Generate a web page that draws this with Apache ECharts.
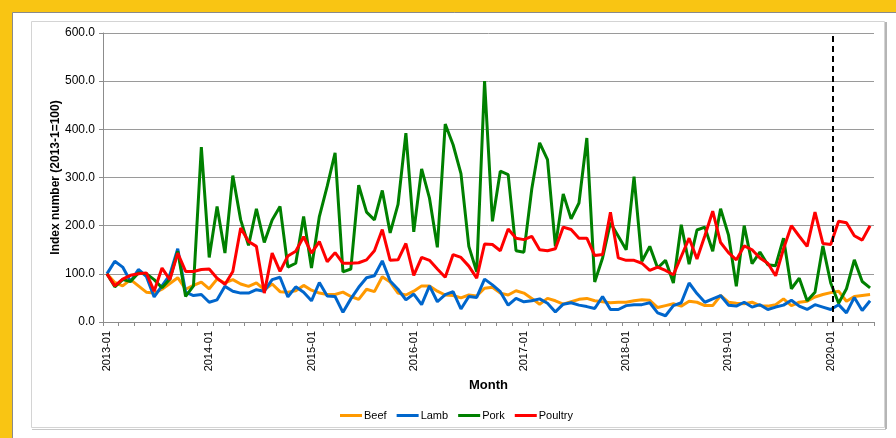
<!DOCTYPE html>
<html>
<head>
<meta charset="utf-8">
<script src="https://cdn.jsdelivr.net/npm/echarts@6/dist/echarts.min.js"></script>
<style>
html,body{margin:0;padding:0;background:#f9c513;}
#chart{width:896px;height:438px;}
</style>
</head>
<body>
<div id="chart"></div>
<script>
var FONT = "Arial, 'Liberation Sans', sans-serif";

// 4-weekly periods, labelled by the month they fall in
var periods = [
	"2013-01","2013-02","2013-03","2013-03","2013-04","2013-05","2013-06","2013-07","2013-08","2013-09","2013-10","2013-11","2013-12",
	"2014-01","2014-02","2014-03","2014-03","2014-04","2014-05","2014-06","2014-07","2014-08","2014-09","2014-10","2014-11","2014-12",
	"2015-01","2015-01","2015-02","2015-03","2015-04","2015-05","2015-06","2015-07","2015-08","2015-09","2015-10","2015-11","2015-12",
	"2016-01","2016-01","2016-02","2016-03","2016-04","2016-05","2016-06","2016-07","2016-08","2016-09","2016-10","2016-11","2016-12","2016-12",
	"2017-01","2017-02","2017-03","2017-04","2017-05","2017-06","2017-07","2017-08","2017-09","2017-10","2017-11","2017-12","2017-12",
	"2018-01","2018-02","2018-03","2018-04","2018-05","2018-06","2018-07","2018-08","2018-09","2018-10","2018-11","2018-12","2018-12",
	"2019-01","2019-02","2019-03","2019-04","2019-05","2019-06","2019-07","2019-08","2019-09","2019-10","2019-11","2019-11","2019-12",
	"2020-01","2020-02","2020-03","2020-04","2020-05","2020-06"
];

var beef = [100,82,75,88,75,62,60,68,80,92,68,76,83,69,89,81,88,79,74,81,67,79,63,62,65,76,66,60,57,57,62,53,47,68,63,94,83,60,56,64,75,75,64,56,55,50,56,54,70,72,60,56,65,60,49,37,49,44,37,42,47,49,44,42,40,41,41,44,46,45,30,34,38,33,43,41,34,34,55,41,39,38,41,34,33,36,48,34,41,43,52,57,61,64,43,53,55,57];
var lamb = [100,126,114,84,109,95,52,75,98,152,62,55,57,41,46,74,64,60,60,67,64,88,93,52,73,62,44,82,54,53,20,48,72,92,96,127,85,68,46,58,36,75,42,57,63,27,53,51,89,77,63,35,49,42,44,48,39,21,37,40,35,32,28,53,26,26,34,36,36,40,19,13,34,40,81,59,41,48,55,35,33,41,31,36,26,31,35,45,33,26,36,31,26,36,19,51,24,44];
var pork = [100,73,88,84,102,100,88,71,89,147,53,75,363,134,240,143,304,212,159,235,165,212,240,114,122,219,112,219,282,351,104,110,284,228,212,273,185,244,392,187,318,257,155,411,368,308,157,104,500,209,313,306,148,145,276,372,337,157,266,214,247,382,83,133,206,178,150,302,126,157,112,128,81,202,120,191,197,147,235,181,74,200,121,145,119,117,174,69,91,44,62,158,81,39,69,129,84,71];
var poultry = [100,75,89,97,100,102,64,112,88,143,105,105,109,110,91,78,105,195,167,157,60,143,105,137,147,177,143,167,125,144,122,122,123,129,148,192,128,129,163,97,134,128,110,93,140,134,116,91,162,161,148,193,174,171,178,150,148,152,197,192,174,174,138,140,228,133,128,128,122,107,114,107,98,136,174,131,179,230,165,144,129,158,150,133,122,96,152,200,178,157,228,163,161,209,206,179,170,200];

var seriesNames = ["Beef", "Lamb", "Pork", "Poultry"];
var seriesColors = ["#ff9900", "#0066cc", "#008000", "#ff0000"];
var seriesData = [beef, lamb, pork, poultry];

// dashed marker, in period units along the plot
var markerAt = 92.75;

var chart = echarts.init(document.getElementById("chart"));

var series = seriesNames.map(function(name, i) {
	return {
		name: name,
		type: "line",
		data: seriesData[i],
		symbol: "none",
		lineStyle: { width: 3, color: seriesColors[i] },
		itemStyle: { color: seriesColors[i] },
		animation: false
	};
});
series.push({
	type: "line",
	xAxisIndex: 1,
	data: [],
	animation: false,
	markLine: {
		silent: true,
		symbol: "none",
		label: { show: false },
		lineStyle: { color: "#000", width: 2, type: [6, 4] },
		data: [{ xAxis: markerAt }]
	}
});

var option = {
	animation: false,
	graphic: [
		{
			type: "rect",
			shape: { x: 12.5, y: 12.5, width: 900, height: 440 },
			style: { fill: "#fff", stroke: "#8a8a8a", lineWidth: 1 },
			z: -10
		},
		{
			type: "rect",
			shape: { x: 31.5, y: 21.5, width: 853, height: 406 },
			style: { fill: "none", stroke: "#d4d4d4", lineWidth: 1 },
			z: -9
		},
		{
			type: "line",
			shape: { x1: 886, y1: 22, x2: 886, y2: 429 },
			style: { stroke: "#b5b5b5", lineWidth: 2 },
			z: -9
		},
		{
			type: "line",
			shape: { x1: 32, y1: 429.5, x2: 886, y2: 429.5 },
			style: { stroke: "#c8c8c8", lineWidth: 1 },
			z: -9
		}
	],
	grid: { left: 103, top: 33, width: 771, height: 289 },
	legend: {
		data: seriesNames,
		left: 340,
		top: 410,
		padding: 0,
		icon: "rect",
		itemWidth: 22,
		itemHeight: 3,
		itemGap: 10,
		textStyle: { fontFamily: FONT, fontSize: 11, color: "#000", padding: [0, 0, 0, -3] }
	},
	xAxis: [
		{
			type: "category",
			data: periods,
			boundaryGap: true,
			name: "Month",
			nameLocation: "middle",
			nameGap: 56,
			nameTextStyle: { fontFamily: FONT, fontSize: 13, fontWeight: "bold", color: "#000" },
			axisLine: { lineStyle: { color: "#8c8c8c", width: 1 } },
			axisTick: { show: false },
			axisLabel: {
				rotate: 90,
				margin: 9,
				fontFamily: FONT,
				fontSize: 11,
				color: "#000",
				interval: function(idx, val) {
					return idx === 0 || val.slice(0, 4) !== periods[idx - 1].slice(0, 4);
				}
			},
			splitLine: { show: false }
		},
		{
			type: "value",
			position: "bottom",
			min: 0,
			max: 98,
			interval: 2,
			axisLine: { show: false },
			axisTick: { show: true, length: 4, lineStyle: { color: "#8c8c8c" } },
			axisLabel: { show: false },
			splitLine: { show: false }
		}
	],
	yAxis: {
		type: "value",
		min: 0,
		max: 600,
		interval: 100,
		name: "Index number (2013-1=100)",
		nameLocation: "middle",
		nameGap: 41,
		nameMoveOverlap: false,
		nameTextStyle: { fontFamily: FONT, fontSize: 12, fontWeight: "bold", color: "#000" },
		axisLine: { show: true, lineStyle: { color: "#8c8c8c" } },
		axisTick: { show: true, length: 4, lineStyle: { color: "#8c8c8c" } },
		axisLabel: {
			fontFamily: FONT,
			fontSize: 12,
			color: "#000",
			margin: 8,
			formatter: function(v) { return v.toFixed(1); }
		},
		splitLine: { lineStyle: { color: "#9a9a9a", width: 1 } }
	},
	series: series
};
chart.setOption(option);
</script>
</body>
</html>
